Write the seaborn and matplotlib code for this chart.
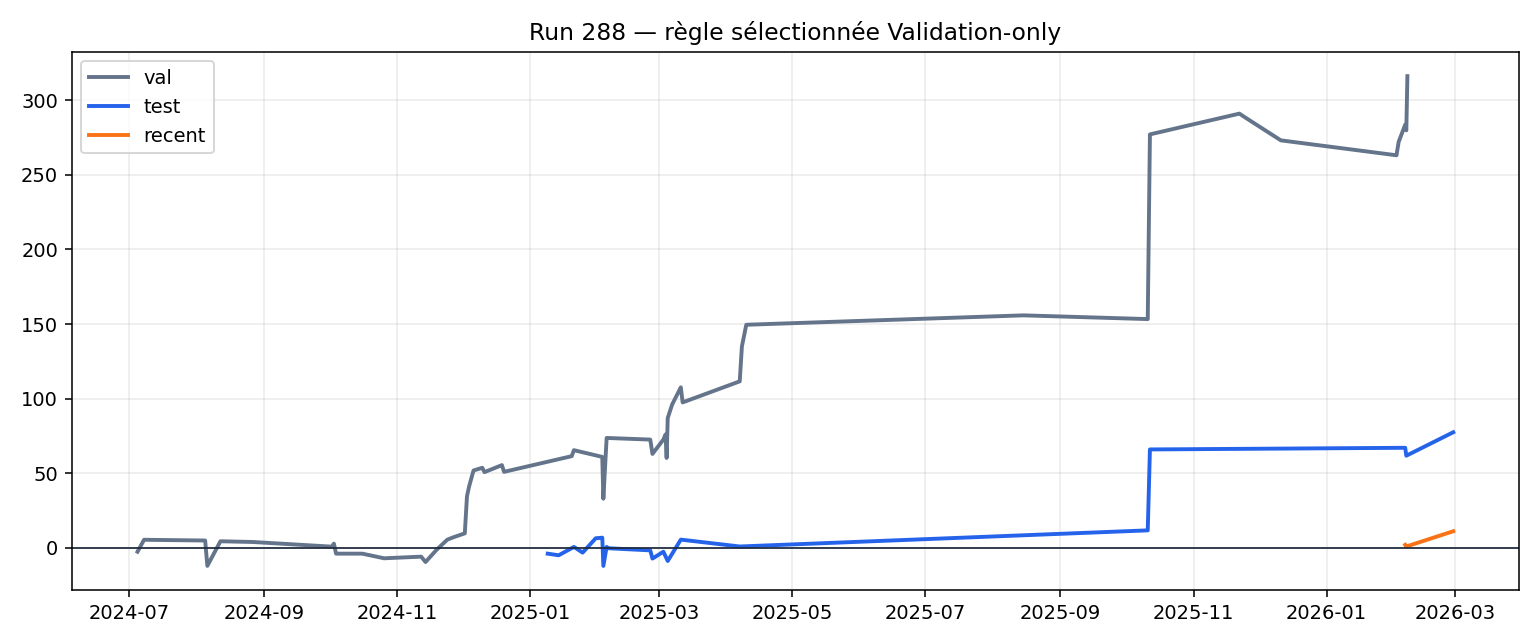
import pandas as pd
import matplotlib
matplotlib.use("Agg")
import matplotlib.pyplot as plt
import seaborn as sns

# cumulative curves
val_dates = ["2024-07-05", "2024-07-08", "2024-08-05", "2024-08-06", "2024-08-12",
             "2024-08-27", "2024-10-02", "2024-10-03", "2024-10-04", "2024-10-16",
             "2024-10-26", "2024-11-12", "2024-11-14", "2024-11-19", "2024-11-24",
             "2024-11-27", "2024-12-02", "2024-12-03", "2024-12-04", "2024-12-06",
             "2024-12-10", "2024-12-11", "2024-12-19", "2024-12-20", "2025-01-20",
             "2025-01-21", "2025-02-03 00:00", "2025-02-03 12:00", "2025-02-05",
             "2025-02-25", "2025-02-26", "2025-03-03", "2025-03-04 00:00",
             "2025-03-04 12:00", "2025-03-05", "2025-03-07", "2025-03-11 00:00",
             "2025-03-11 20:00", "2025-04-07", "2025-04-08", "2025-04-10",
             "2025-08-15", "2025-10-11", "2025-10-12", "2025-11-22", "2025-11-25",
             "2025-12-11", "2026-02-02", "2026-02-03", "2026-02-06 00:00",
             "2026-02-06 12:00", "2026-02-07"]
val_pnl = [-2.5, 5.5, 5.0, -12.0, 4.5,
           4.0, 0.9, 2.9, -3.8, -3.8,
           -6.9, -5.8, -9.4, -1.3, 5.6,
           7.3, 9.8, 34.7, 41.4, 51.9,
           53.7, 50.8, 55.5, 51.0, 61.5,
           65.5, 61.0, 33.0, 73.7,
           72.6, 63.0, 72.6, 76.0,
           60.3, 87.0, 96.0, 107.6,
           97.5, 111.6, 135.0, 149.5,
           155.8, 153.3, 277.0, 290.9, 288.0,
           273.0, 263.0, 272.0, 283.5,
           279.7, 316.0]

test_dates = ["2025-01-09", "2025-01-14", "2025-01-21", "2025-01-25", "2025-01-31",
              "2025-02-03 00:00", "2025-02-03 12:00", "2025-02-05", "2025-02-06",
              "2025-02-25", "2025-02-26", "2025-03-03", "2025-03-05", "2025-03-11",
              "2025-04-07", "2025-10-11", "2025-10-12", "2026-02-06 00:00",
              "2026-02-06 12:00", "2026-02-28"]
test_pnl = [-3.8, -4.9, 0.7, -3.1, 6.5,
            6.9, -12.0, 0.7, -0.2,
            -1.6, -7.1, -2.5, -8.7, 5.6,
            1.0, 11.8, 66.0, 67.1,
            61.8, 77.5]

recent_dates = ["2026-02-06 00:00", "2026-02-06 12:00", "2026-02-28"]
recent_pnl = [2.1, 1.0, 11.2]

series = {"val": (val_dates, val_pnl, "#64748b"),
          "test": (test_dates, test_pnl, "#2563eb"),
          "recent": (recent_dates, recent_pnl, "#f97316")}

fig, ax = plt.subplots(figsize=(11, 4.6), dpi=140)

for name, (d, v, c) in series.items():
    df = pd.DataFrame({"date": pd.to_datetime(d, format="mixed"), "pnl": v})
    sns.lineplot(data=df, x="date", y="pnl", ax=ax, color=c, lw=2.0,
                 label=name, sort=False, estimator=None)

ax.axhline(0, color="#1e293b", lw=0.9)
ax.grid(True, alpha=0.25)
ax.set_xlabel("")
ax.set_ylabel("")
ax.set_title("Run 288 — règle sélectionnée Validation-only")
ax.legend(loc="upper left")

plt.tight_layout()
plt.savefig("out.png")
